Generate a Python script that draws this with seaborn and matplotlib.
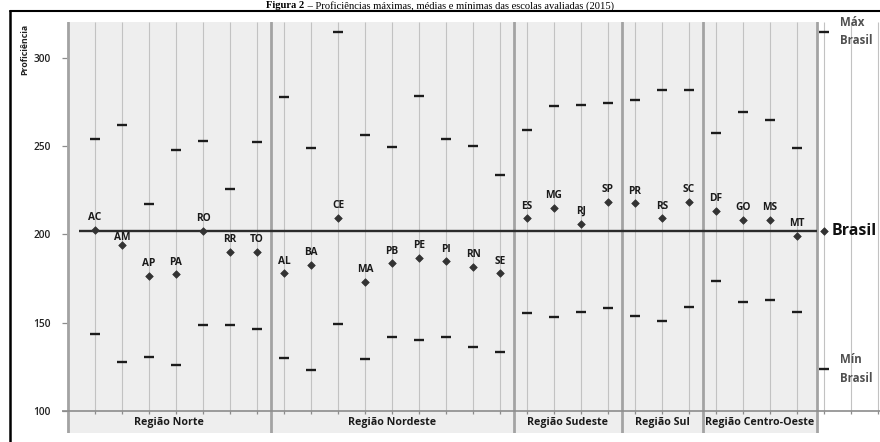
import numpy as np
import pandas as pd
import matplotlib
matplotlib.use("Agg")
import matplotlib.pyplot as plt
import seaborn as sns
from matplotlib.lines import Line2D

# ---------------- data ----------------
states = ["AC", "AM", "AP", "PA", "RO", "RR", "TO",
          "AL", "BA", "CE", "MA", "PB", "PE", "PI", "RN", "SE",
          "ES", "MG", "RJ", "SP",
          "PR", "RS", "SC",
          "DF", "GO", "MS", "MT"]
regions = ["Região Norte", "Região Nordeste", "Região Sudeste", "Região Sul", "Região Centro-Oeste"]
region_sizes = [7, 9, 4, 3, 4]
prof_max = [253.9, 262.0, 217.0, 247.6, 253.1, 225.7, 252.5,
            277.6, 248.9, 314.8, 256.3, 249.7, 278.5, 254.2, 250.1, 233.6,
            258.9, 272.9, 273.3, 274.2,
            275.9, 281.6, 281.9,
            257.6, 269.1, 264.8, 248.7]
prof_mean = [202.5, 194.2, 176.6, 177.4, 202.1, 190.2, 190.2,
             178.0, 182.8, 209.5, 173.2, 183.6, 186.8, 184.8, 181.5, 178.0,
             209.1, 214.9, 206.1, 218.3,
             217.6, 209.1, 218.3,
             213.4, 208.2, 208.2, 199.1]
prof_min = [143.6, 127.6, 130.6, 126.2, 148.5, 148.5, 146.6,
            130.2, 123.4, 149.3, 129.3, 141.9, 140.4, 141.9, 136.2, 133.2,
            155.7, 153.0, 156.1, 158.2,
            153.6, 150.8, 158.9,
            173.8, 161.9, 162.7, 156.1]
brasil_max = 314.8
brasil_mean = 202.0
brasil_min = 123.6
y_ticks = [100, 150, 200, 250, 300]
title_bold = "Figura 2"
title_rest = " – Proficiências máximas, médias e mínimas das escolas avaliadas (2015)"

# ---------------- styling ----------------
sns.set_theme(style="white")
plt.rcParams["font.family"] = ["Open Sans", "DejaVu Sans"]

W, H = 880, 442
fig = plt.figure(figsize=(W / 100, H / 100), dpi=100)
fig.patch.set_facecolor("white")

ax_left, ax_right = 67, 880
ax_top, ax_bot = 21.7, 433
ax = fig.add_axes([ax_left / W, 1 - ax_bot / H, (ax_right - ax_left) / W, (ax_bot - ax_top) / H])
ax.set_facecolor("none")

# pixel <-> data mapping: x = 95 + 27*pos ; y: 100 at px 411, 1.766 px per unit
def xpos(px):
    return (px - 95) / 27.0

def yval(py):
    return 100 + (411 - py) / 1.766

xmin, xmax = xpos(ax_left), xpos(ax_right)
ymin, ymax = yval(ax_bot), yval(ax_top)
ax.set_xlim(xmin, xmax)
ax.set_ylim(ymin, ymax)

n = len(states)
positions = np.arange(n + 1)
df = pd.DataFrame({
    "pos": positions,
    "uf": states + ["Brasil"],
    "max": prof_max + [brasil_max],
    "mean": prof_mean + [brasil_mean],
    "min": prof_min + [brasil_min],
})

# gray region background and separators
gray_right = xpos(817)
ax.axvspan(xmin, gray_right, color="#eeeeee", zorder=0, lw=0)
bounds = np.cumsum([0] + region_sizes) - 0.5
bounds[0] = xmin + 0.02
bounds[-1] = gray_right
for b in bounds:
    ax.axvline(b, color="#a3a3a3", lw=2.0, zorder=2)

# vertical grid lines above the axis line
grid_pos = np.arange(0, int(np.floor(xmax)) + 1)
ax.vlines(grid_pos, 100, ymax, color="#c2c2c2", lw=0.8, zorder=1)
# x axis line and tick marks
ax.hlines(100, xmin - 0.2, xmax, color="#8c8c8c", lw=1.2, zorder=3, clip_on=False)
ax.vlines(grid_pos, 100 - 3 / 1.766, 100, color="#8c8c8c", lw=0.9, zorder=3)

# region labels
for i, r in enumerate(regions):
    cx = (bounds[i] + bounds[i + 1]) / 2
    ax.text(cx, yval(422.5), r, ha="center", va="center", fontsize=7.7,
            fontweight="bold", color="#1a1a1a", zorder=4)

# Brasil mean line
ax.hlines(brasil_mean, xpos(79), gray_right, color="#2b2b2b", lw=1.7, zorder=3)

# markers
sns.scatterplot(data=df, x="pos", y="max", marker="_", s=46, color="#1c1c1c",
                linewidth=1.7, ax=ax, zorder=5, legend=False)
sns.scatterplot(data=df, x="pos", y="min", marker="_", s=46, color="#1c1c1c",
                linewidth=1.7, ax=ax, zorder=5, legend=False)
sns.scatterplot(data=df, x="pos", y="mean", marker="D", s=15, color="#333333",
                edgecolor="#333333", linewidth=0.5, ax=ax, zorder=5, legend=False)

# state labels
for p, uf, m in zip(positions[:n], states, prof_mean):
    off = 3.6 if uf == "AM" else 7.0
    ax.annotate(uf, (p, m), xytext=(0, off), textcoords="offset points",
                ha="center", va="baseline", fontsize=7.3, fontweight="bold",
                color="#1a1a1a", zorder=6)

# Brasil labels
ax.text(xpos(832), brasil_mean, "Brasil", ha="left", va="center", fontsize=11.5,
        fontweight="bold", color="#111111", zorder=6)
ax.text(xpos(840), brasil_max, "Máx\nBrasil", ha="left", va="center", fontsize=8.3,
        fontweight="bold", color="#505050", linespacing=1.45, zorder=6)
ax.text(xpos(840), brasil_min, "Mín\nBrasil", ha="left", va="center", fontsize=8.3,
        fontweight="bold", color="#505050", linespacing=1.6, zorder=6)

# axes styling
for s in ax.spines.values():
    s.set_visible(False)
ax.set_xticks([])
ax.set_yticks(y_ticks)
ax.set_yticklabels([str(v) for v in y_ticks], fontsize=7.3, fontweight="semibold", color="#222222")
ax.tick_params(axis="y", left=True, direction="out", length=3.5, width=0.9,
               color="#8c8c8c", pad=8.0)
ax.set_xlabel("")
ax.set_ylabel("")

fig.text(25 / W, 1 - 49 / H, "Proficiência", rotation=90, ha="center", va="center",
         fontsize=6.3, fontweight="bold", color="#222222")

# outer frame (top & left)
fig.add_artist(Line2D([9.5 / W, 1.0], [1 - 10.7 / H, 1 - 10.7 / H], color="black", lw=1.5,
                      transform=fig.transFigure))
fig.add_artist(Line2D([9.5 / W, 9.5 / W], [0, 1 - 10.7 / H], color="black", lw=1.8,
                      transform=fig.transFigure))

# title, fitted into the band above the frame
base_y = 1 - 8.4 / H
tfs = 7.6
t1 = fig.text(0, base_y, title_bold, ha="left", va="baseline",
              family="Liberation Serif", fontweight="bold", fontsize=tfs, color="black")
t2 = fig.text(0, base_y, title_rest, ha="left", va="baseline",
              family="Liberation Serif", fontsize=tfs, color="black")
fig.canvas.draw()
r = fig.canvas.get_renderer()
w1 = t1.get_window_extent(r).width
w2 = t2.get_window_extent(r).width
x0 = 440 - (w1 + w2) / 2
t1.set_x(x0 / W)
t2.set_x((x0 + w1) / W)

fig.savefig("out.png", dpi=100, facecolor="white")
